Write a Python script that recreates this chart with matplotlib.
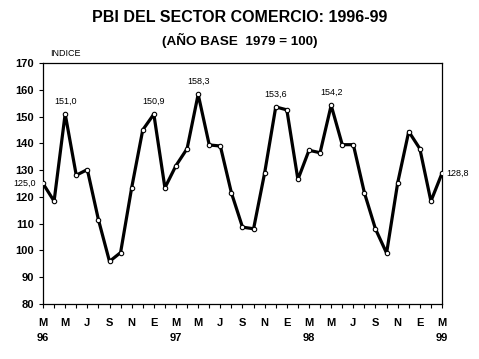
import matplotlib
matplotlib.use("Agg")
import matplotlib.pyplot as plt
import numpy as np

plt.rcParams['font.family'] = ['Liberation Sans', 'DejaVu Sans']

# indice mensual, marzo 1996 - marzo 1999
valores = [125.0, 118.4, 151.0, 128.1, 130.2, 111.5, 95.9, 99.2, 123.4, 145.0,
           150.9, 123.4, 131.7, 138.0, 158.3, 139.4, 139.0, 121.5, 108.7, 108.1,
           129.0, 153.6, 152.5, 126.5, 137.4, 136.5, 154.2, 139.5, 139.5, 121.5,
           108.0, 99.0, 125.2, 144.4, 138.0, 118.4, 128.8]
meses = ['M\n96', 'M', 'J', 'S', 'N', 'E', 'M\n97', 'M', 'J', 'S', 'N', 'E',
         'M\n98', 'M', 'J', 'S', 'N', 'E', 'M\n99']
etiquetas = {0: '125,0', 2: '151,0', 10: '150,9', 14: '158,3', 21: '153,6',
             26: '154,2', 36: '128,8'}

x = np.arange(len(valores))

fig = plt.figure(figsize=(4.79, 3.59), dpi=100)
ax = fig.add_axes([43 / 479, 1 - 304 / 359, 399 / 479, 241 / 359])

ax.plot(x, valores, color='black', lw=2.3, marker='o', ms=3.2,
        mfc='white', mec='black', mew=0.8, zorder=3)

for i, txt in etiquetas.items():
    if i == 0:
        ax.annotate(txt, (x[i], valores[i]), xytext=(-5, 0),
                    textcoords='offset points', ha='right', va='center',
                    fontsize=6.5, annotation_clip=False)
    elif i == len(valores) - 1:
        ax.annotate(txt, (x[i], valores[i]), xytext=(3, 0),
                    textcoords='offset points', ha='left', va='center',
                    fontsize=6.5, annotation_clip=False)
    else:
        ax.annotate(txt, (x[i], valores[i]), xytext=(0, 6),
                    textcoords='offset points', ha='center', va='bottom',
                    fontsize=6.5)

ax.set_xlim(0, len(valores) - 1)
ax.set_ylim(80, 170)
ax.set_yticks(np.arange(80, 171, 10))
ax.set_xticks(x[::2])
ax.set_xticklabels(meses, fontweight='bold', fontsize=8, linespacing=1.7)
ax.set_xticks(x, minor=True)
ax.tick_params(axis='both', which='both', direction='out', length=3,
               width=0.8, labelsize=8)
ax.tick_params(axis='x', pad=7)
for lbl in ax.get_yticklabels():
    lbl.set_fontweight('bold')
for s in ax.spines.values():
    s.set_linewidth(0.9)

fig.text(0.5, 1 - 18 / 359, 'PBI DEL SECTOR COMERCIO: 1996-99', ha='center',
         va='center', fontsize=11.5, fontweight='bold')
fig.text(0.5, 1 - 40 / 359, '(AÑO BASE  1979 = 100)', ha='center',
         va='center', fontsize=9.7, fontweight='bold')
fig.text(50 / 479, 1 - 54 / 359, 'INDICE', ha='left', va='center',
         fontsize=6.5)

fig.savefig('out.png', dpi=100)
